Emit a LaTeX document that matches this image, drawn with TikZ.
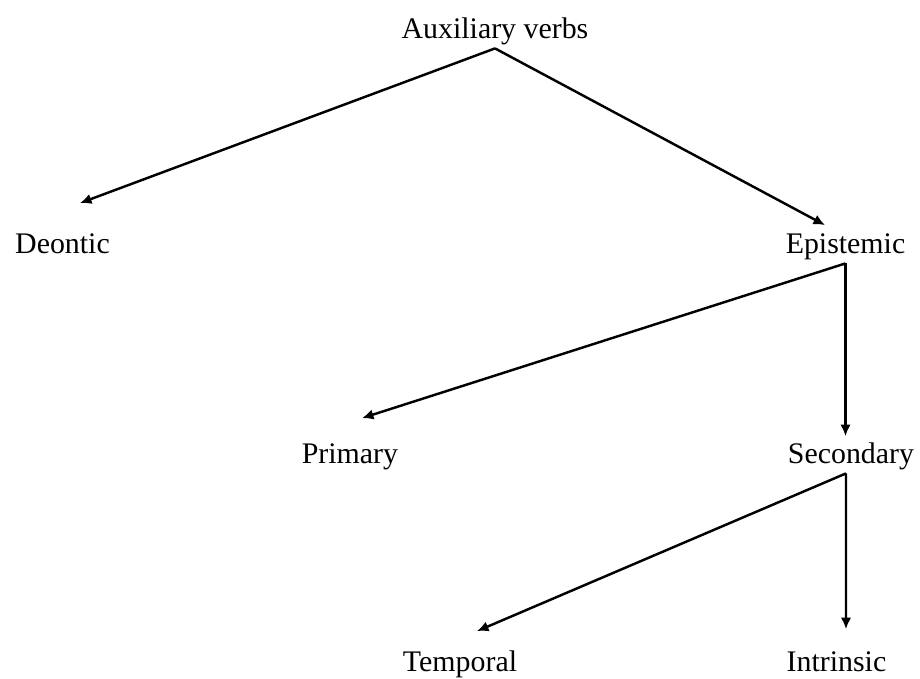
\documentclass[tikz,border=0pt]{standalone}
\usepackage{fontspec}
\setmainfont{Liberation Serif}
\usetikzlibrary{arrows.meta}
\tikzstyle{term} = [font=\fontsize{17}{20}\selectfont, text height=11.9pt, text depth=3.7pt, inner sep=1.9pt]
\tikzstyle{line} = [draw, -{Latex[length=0.23cm,width=0.21cm]}, line width=1.4pt]

\begin{document}
\begin{tikzpicture}[node distance=4.3cm]
	\useasboundingbox (-9.9,0.62) rectangle (8.5,-12.94);
	\node [term] (aux) {Auxiliary verbs};
	\node [term, below of=aux, xshift=-8.65cm] (deontic) {Deontic};
	\node [term, below of=aux, xshift=7.01cm] (epistemic) {Epistemic};
	\node [term, below of=epistemic, node distance=4.2cm, xshift=-9.91cm] (primary) {Primary};
	\node [term, below of=epistemic, node distance=4.2cm, xshift=0.11cm] (secondary) {Secondary};
	\node [term, below of=secondary, node distance=4.16cm, xshift=-7.82cm] (temporal) {Temporal};
	\node [term, below of=secondary, node distance=4.16cm, xshift=-0.29cm] (intrinsic) {Intrinsic};
	\path [line] (aux.south) -- ([xshift=0.35cm,yshift=0.51cm]deontic.north);
	\path [line] (aux.south) -- ([xshift=-0.41cm,yshift=0.07cm]epistemic.north);
	\path [line] (epistemic.south) -- ([xshift=0.24cm,yshift=0.41cm]primary.north);
	\path [line] (epistemic.south) -- ([xshift=-0.11cm,yshift=0.05cm]secondary.north);
	\path [line] ([xshift=-0.1cm]secondary.south) -- ([xshift=0.34cm,yshift=0.31cm]temporal.north);
	\path [line] ([xshift=-0.1cm]secondary.south) -- ([xshift=0.19cm,yshift=0.35cm]intrinsic.north);
\end{tikzpicture}
\end{document}
